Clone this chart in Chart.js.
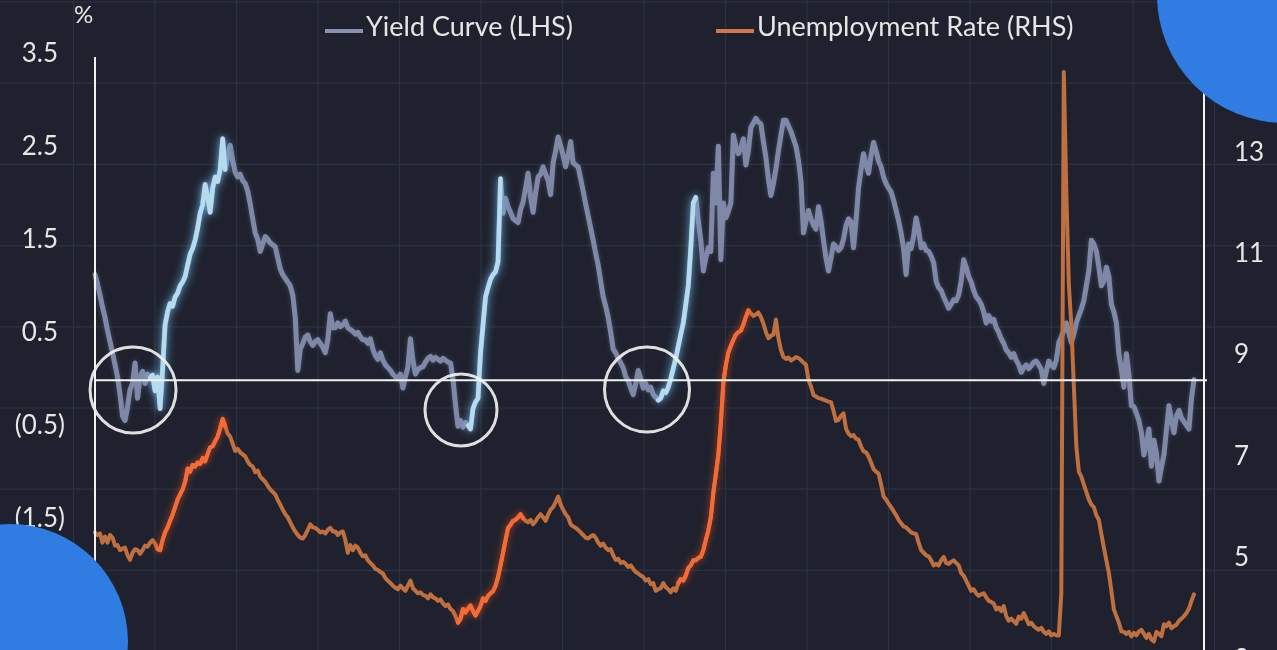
<!DOCTYPE html>
<html>
<head>
<meta charset="utf-8">
<title>Yield Curve vs Unemployment Rate</title>
<script src="https://cdn.jsdelivr.net/npm/chart.js@4.4.1/dist/chart.umd.min.js"></script>
<style>
  html, body { margin: 0; padding: 0; background: #1f222e; overflow: hidden; }
  #wrap { width: 1277px; height: 680px; }
</style>
</head>
<body>
<div id="wrap"><canvas id="chart" width="1277" height="680"></canvas></div>
<script>
// monthly, Jan 1988 .. Aug 2024 (axis runs on to Dec 2024)
const months = [];
for (let y = 1988; y <= 2024; y++) {
  for (let m = 1; m <= 12; m++) months.push(y + '-' + String(m).padStart(2, '0'));
}

// 10y - 2y spread, % (left axis)
const yieldCurve = [
  1.12, 1.02, 0.90, 0.77, 0.66, 0.52, 0.40, 0.28, 0.15, 0.02, -0.17, -0.40,
  -0.45, -0.30, -0.12, -0.05, 0.17, -0.21, 0.02, 0.08, -0.05, 0.05, 0.01, 0.04,
  -0.13, 0.02, -0.32, 0.10, 0.58, 0.72, 0.81, 0.78, 0.88, 0.92, 1.00, 1.04,
  1.10, 1.22, 1.34, 1.40, 1.49, 1.62, 1.78, 1.87, 2.09, 1.95, 1.79, 2.05,
  2.17, 2.12, 2.25, 2.58, 2.25, 2.40, 2.51, 2.35, 2.22, 2.17, 2.20, 2.13,
  2.10, 2.02, 1.88, 1.72, 1.57, 1.50, 1.37, 1.45, 1.53, 1.50, 1.46, 1.44,
  1.42, 1.30, 1.18, 1.12, 1.08, 1.04, 1.00, 0.90, 0.66, 0.09, 0.32, 0.38,
  0.45, 0.47, 0.40, 0.36, 0.40, 0.42, 0.38, 0.34, 0.28, 0.42, 0.70, 0.55,
  0.55, 0.60, 0.56, 0.58, 0.62, 0.55, 0.53, 0.51, 0.48, 0.50, 0.45, 0.42,
  0.42, 0.38, 0.43, 0.32, 0.25, 0.21, 0.28, 0.20, 0.15, 0.12, 0.09, 0.05,
  0.02, 0.00, 0.05, -0.10, 0.02, 0.13, 0.43, 0.20, 0.05, 0.10, 0.12, 0.13,
  0.18, 0.22, 0.24, 0.20, 0.23, 0.21, 0.19, 0.22, 0.20, 0.18, 0.17, 0.00,
  -0.28, -0.51, -0.45, -0.52, -0.47, -0.50, -0.54, -0.32, -0.25, -0.21, 0.28, 0.58,
  0.88, 0.98, 1.07, 1.12, 1.15, 1.26, 2.15, 1.78, 1.94, 1.85, 1.79, 1.72,
  1.70, 1.68, 1.82, 1.90, 2.05, 2.21, 1.95, 1.79, 2.00, 2.17, 2.20, 2.28,
  2.20, 2.13, 1.98, 2.32, 2.45, 2.60, 2.51, 2.40, 2.28, 2.40, 2.55, 2.32,
  2.30, 2.28, 2.15, 2.02, 1.88, 1.75, 1.62, 1.49, 1.35, 1.22, 1.05, 0.88,
  0.78, 0.66, 0.50, 0.32, 0.28, 0.22, 0.17, 0.12, 0.02, -0.02, -0.10, -0.17,
  -0.05, 0.09, 0.00, -0.10, -0.05, -0.12, -0.09, -0.17, -0.20, -0.23, -0.21, -0.13,
  -0.15, -0.09, 0.00, 0.11, 0.22, 0.35, 0.48, 0.60, 0.80, 1.00, 1.41, 1.89,
  1.95, 1.70, 1.49, 1.16, 1.30, 1.41, 1.37, 2.21, 1.89, 2.50, 1.28, 1.89,
  1.73, 1.80, 1.89, 2.62, 2.50, 2.42, 2.48, 2.58, 2.30, 2.45, 2.70, 2.75,
  2.80, 2.76, 2.74, 2.55, 2.38, 2.15, 1.97, 2.10, 2.26, 2.45, 2.62, 2.78,
  2.78, 2.72, 2.66, 2.58, 2.50, 2.35, 2.13, 1.57, 1.70, 1.81, 1.72, 1.65,
  1.61, 1.85, 1.70, 1.49, 1.30, 1.16, 1.30, 1.45, 1.42, 1.38, 1.41, 1.50,
  1.65, 1.72, 1.69, 1.41, 1.70, 2.05, 2.25, 2.42, 2.30, 2.21, 2.40, 2.54,
  2.45, 2.34, 2.28, 2.17, 2.10, 2.05, 2.01, 1.92, 1.81, 1.70, 1.57, 1.40,
  1.12, 1.45, 1.40, 1.53, 1.73, 1.60, 1.41, 1.45, 1.38, 1.37, 1.32, 1.25,
  1.05, 0.98, 0.95, 0.88, 0.82, 0.76, 0.80, 0.85, 0.84, 0.90, 1.05, 1.28,
  1.20, 1.10, 1.04, 0.95, 0.88, 0.85, 0.80, 0.72, 0.60, 0.68, 0.62, 0.64,
  0.55, 0.50, 0.43, 0.38, 0.31, 0.28, 0.23, 0.27, 0.20, 0.15, 0.07, 0.12,
  0.15, 0.11, 0.14, 0.18, 0.19, 0.15, 0.10, -0.05, 0.08, 0.19, 0.15, 0.12,
  0.20, 0.39, 0.45, 0.52, 0.60, 0.50, 0.39, 0.48, 0.60, 0.68, 0.75, 0.84,
  1.00, 1.16, 1.49, 1.45, 1.37, 1.20, 1.00, 1.05, 1.20, 1.10, 0.80, 0.72,
  0.60, 0.27, 0.10, -0.09, 0.27, 0.05, -0.29, -0.30, -0.37, -0.45, -0.58, -0.82,
  -0.70, -0.54, -0.94, -0.66, -0.80, -1.10, -0.95, -0.82, -0.55, -0.29, -0.45, -0.58,
  -0.40, -0.34, -0.42, -0.46, -0.50, -0.54, -0.21, -0.01
];

// unemployment rate, % (right axis)
const unemployment = [
  5.50, 5.45, 5.48, 5.30, 5.42, 5.30, 5.45, 5.40, 5.24, 5.25, 5.15, 5.18,
  5.20, 5.05, 4.96, 5.10, 5.17, 5.15, 5.08, 5.15, 5.24, 5.22, 5.30, 5.35,
  5.28, 5.17, 5.15, 5.35, 5.50, 5.60, 5.73, 5.85, 6.00, 6.15, 6.25, 6.35,
  6.50, 6.76, 6.70, 6.83, 6.80, 6.88, 6.85, 6.97, 6.90, 7.05, 7.18, 7.20,
  7.30, 7.39, 7.55, 7.74, 7.60, 7.45, 7.39, 7.25, 7.11, 7.15, 7.08, 7.04,
  7.00, 6.90, 6.83, 6.80, 6.69, 6.72, 6.60, 6.55, 6.50, 6.42, 6.35, 6.30,
  6.25, 6.14, 6.05, 5.95, 5.86, 5.80, 5.70, 5.60, 5.52, 5.45, 5.40, 5.38,
  5.45, 5.55, 5.66, 5.60, 5.59, 5.55, 5.50, 5.52, 5.48, 5.55, 5.59, 5.52,
  5.52, 5.45, 5.50, 5.52, 5.35, 5.10, 5.25, 5.15, 5.24, 5.20, 5.10, 5.03,
  5.05, 4.95, 4.90, 4.85, 4.78, 4.76, 4.72, 4.69, 4.60, 4.55, 4.50, 4.45,
  4.41, 4.38, 4.45, 4.40, 4.35, 4.45, 4.55, 4.40, 4.35, 4.30, 4.32, 4.27,
  4.25, 4.20, 4.28, 4.22, 4.20, 4.15, 4.18, 4.10, 4.05, 4.08, 3.99, 3.95,
  3.85, 3.72, 3.80, 3.99, 3.92, 4.00, 4.06, 3.95, 3.86, 3.95, 4.05, 4.20,
  4.15, 4.25, 4.30, 4.34, 4.45, 4.62, 4.85, 5.10, 5.35, 5.59, 5.65, 5.73,
  5.75, 5.80, 5.86, 5.78, 5.73, 5.70, 5.75, 5.66, 5.72, 5.80, 5.86, 5.80,
  5.73, 5.85, 5.95, 6.00, 6.10, 6.21, 6.05, 5.95, 5.86, 5.80, 5.66, 5.62,
  5.59, 5.55, 5.50, 5.45, 5.40, 5.38, 5.42, 5.45, 5.40, 5.30, 5.24, 5.28,
  5.20, 5.15, 5.17, 5.05, 4.96, 4.98, 4.90, 4.92, 4.88, 4.82, 4.85, 4.78,
  4.72, 4.69, 4.65, 4.62, 4.55, 4.58, 4.48, 4.50, 4.35, 4.38, 4.40, 4.50,
  4.42, 4.38, 4.32, 4.40, 4.35, 4.50, 4.58, 4.55, 4.65, 4.80, 4.85, 4.95,
  4.95, 5.00, 5.02, 5.15, 5.35, 5.54, 5.80, 6.28, 6.65, 7.03, 7.65, 8.45,
  8.80, 9.05, 9.18, 9.30, 9.40, 9.45, 9.48, 9.60, 9.75, 9.88, 9.82, 9.77,
  9.80, 9.84, 9.75, 9.62, 9.45, 9.33, 9.38, 9.40, 9.70, 9.33, 9.10, 8.96,
  8.92, 8.95, 8.89, 8.92, 8.96, 8.94, 8.90, 8.85, 8.81, 8.51, 8.38, 8.21,
  8.18, 8.15, 8.14, 8.12, 8.10, 8.08, 8.07, 7.90, 7.70, 7.72, 7.80, 7.85,
  7.55, 7.45, 7.40, 7.42, 7.35, 7.33, 7.20, 7.10, 7.08, 7.00, 6.88, 6.75,
  6.70, 6.66, 6.45, 6.21, 6.15, 6.07, 6.00, 5.92, 5.84, 5.75, 5.68, 5.62,
  5.60, 5.55, 5.50, 5.48, 5.47, 5.30, 5.15, 5.10, 5.05, 5.03, 4.95, 4.85,
  4.88, 4.85, 4.95, 5.02, 4.90, 4.88, 4.92, 4.95, 4.90, 4.85, 4.70, 4.65,
  4.55, 4.45, 4.35, 4.38, 4.30, 4.25, 4.28, 4.30, 4.22, 4.15, 4.13, 4.10,
  3.98, 4.02, 3.95, 4.05, 3.85, 3.76, 3.80, 3.75, 3.70, 3.84, 3.80, 3.91,
  3.80, 3.69, 3.72, 3.65, 3.61, 3.58, 3.62, 3.54, 3.50, 3.55, 3.47, 3.50,
  3.47, 3.47, 4.30, 14.58, 12.20, 10.40, 9.60, 8.40, 7.20, 6.70, 6.60, 6.45,
  6.30, 6.15, 6.05, 6.00, 5.84, 5.75, 5.47, 5.20, 4.95, 4.70, 4.35, 3.98,
  3.85, 3.72, 3.55, 3.54, 3.50, 3.54, 3.45, 3.52, 3.47, 3.55, 3.58, 3.50,
  3.42, 3.50, 3.39, 3.35, 3.54, 3.50, 3.45, 3.69, 3.65, 3.72, 3.61, 3.65,
  3.68, 3.76, 3.80, 3.85, 3.91, 4.00, 4.15, 4.28
];

// highlighted stretches (month indexes): re-steepening after inversion, and the jobless rise
const yieldHighlights = [[22, 52], [149, 162], [225, 240]];
const unempHighlights = [[25, 52], [145, 171], [233, 261]];

const leftTicks = [3.5, 2.5, 1.5, 0.5, -0.5, -1.5, -2.5];
const rightTicks = [13, 11, 9, 7, 5, 3];

// circled inversions: [month index, spread value, radius px]
const rings = [[15.2, -0.12, 43], [146.2, -0.335, 36], [220.5, -0.115, 42.5]];

const pick = (arr, ranges) =>
  arr.map((v, i) => (ranges.some(([a, b]) => i >= a && i <= b) ? v : null));

const FONT = 'Lato, "Open Sans", sans-serif';

const backdrop = {
  id: 'backdrop',
  beforeDraw(chart) {
    const ctx = chart.ctx;
    ctx.save();
    ctx.fillStyle = '#1f222e';
    ctx.fillRect(0, 0, chart.width, chart.height);
    ctx.strokeStyle = '#2d3142';
    ctx.lineWidth = 1.2;
    for (let x = -8; x < chart.width; x += 81.5) {
      ctx.beginPath(); ctx.moveTo(x, 0); ctx.lineTo(x, chart.height); ctx.stroke();
    }
    for (let y = 2; y < chart.height; y += 81.2) {
      ctx.beginPath(); ctx.moveTo(0, y); ctx.lineTo(chart.width, y); ctx.stroke();
    }
    ctx.restore();
  }
};

const glow = {
  id: 'glow',
  beforeDatasetDraw(chart, args) {
    const ds = chart.data.datasets[args.index];
    if (!ds.glow) return;
    chart.ctx.save();
    chart.ctx.shadowColor = ds.glow;
    chart.ctx.shadowBlur = ds.glowBlur;
  },
  afterDatasetDraw(chart, args) {
    const ds = chart.data.datasets[args.index];
    if (ds.glow) chart.ctx.restore();
  }
};

const decor = {
  id: 'decor',
  afterDatasetsDraw(chart) {
    const ctx = chart.ctx;
    const { left, right } = chart.chartArea;
    const y = chart.scales.y;
    const x = chart.scales.x;
    ctx.save();
    ctx.strokeStyle = '#f2f2f2';
    ctx.lineWidth = 2;
    // zero line
    const y0 = y.getPixelForValue(0) + 1.5;
    ctx.beginPath(); ctx.moveTo(left, y0); ctx.lineTo(right + 3, y0); ctx.stroke();
    // axis rules
    ctx.beginPath(); ctx.moveTo(left, 57); ctx.lineTo(left, chart.height); ctx.stroke();
    ctx.beginPath(); ctx.moveTo(right, 57); ctx.lineTo(right, chart.height); ctx.stroke();
    // rings
    ctx.lineWidth = 3;
    ctx.strokeStyle = 'rgba(240,240,240,0.92)';
    rings.forEach(([i, v, r]) => {
      ctx.beginPath();
      ctx.arc(x.getPixelForValue(i), y.getPixelForValue(v), r, 0, Math.PI * 2);
      ctx.stroke();
    });
    ctx.restore();
  },
  afterDraw(chart) {
    const ctx = chart.ctx;
    ctx.save();
    // legend
    ctx.font = '27px ' + FONT;
    ctx.fillStyle = '#e6e6e6';
    ctx.textBaseline = 'alphabetic';
    ctx.lineWidth = 4;
    ctx.strokeStyle = '#8a91b0';
    ctx.beginPath(); ctx.moveTo(325, 31); ctx.lineTo(363, 31); ctx.stroke();
    ctx.fillText('Yield Curve (LHS)', 366, 36);
    ctx.strokeStyle = '#d0784a';
    ctx.beginPath(); ctx.moveTo(716, 31); ctx.lineTo(754, 31); ctx.stroke();
    ctx.fillText('Unemployment Rate (RHS)', 757, 36);
    ctx.font = '24px ' + FONT;
    ctx.fillText('%', 74, 23);
    // corner discs
    ctx.fillStyle = '#2f7de3';
    ctx.beginPath(); ctx.arc(1285, -5, 128, 0, Math.PI * 2); ctx.fill();
    ctx.beginPath(); ctx.arc(10, 642, 118, 0, Math.PI * 2); ctx.fill();
    ctx.restore();
  }
};

new Chart(document.getElementById('chart'), {
  type: 'line',
  data: {
    labels: months,
    datasets: [
      {
        label: 'Yield Curve (LHS)',
        data: yieldCurve,
        yAxisID: 'y',
        borderColor: '#8088a8',
        borderWidth: 5,
        order: 5,
        glow: 'rgba(140,150,190,0.35)',
        glowBlur: 4
      },
      {
        label: 'Yield Curve highlight',
        data: pick(yieldCurve, yieldHighlights),
        yAxisID: 'y',
        borderColor: '#b4dcee',
        borderWidth: 4.5,
        spanGaps: false,
        order: 4,
        glow: 'rgba(120,200,255,0.9)',
        glowBlur: 10
      },
      {
        label: 'Unemployment Rate (RHS)',
        data: unemployment,
        yAxisID: 'y2',
        borderColor: '#c0703f',
        borderWidth: 4,
        order: 3
      },
      {
        label: 'Unemployment highlight',
        data: pick(unemployment, unempHighlights),
        yAxisID: 'y2',
        borderColor: '#f26c38',
        borderWidth: 4,
        spanGaps: false,
        order: 2,
        glow: 'rgba(255,80,30,0.7)',
        glowBlur: 7
      }
    ]
  },
  options: {
    responsive: false,
    animation: false,
    events: [],
    layout: { padding: { top: 53.3, bottom: 8, left: 0, right: 0 } },
    elements: {
      point: { radius: 0 },
      line: { tension: 0, borderJoinStyle: 'round', borderCapStyle: 'round' }
    },
    plugins: { legend: { display: false }, tooltip: { enabled: false } },
    scales: {
      x: { display: false, offset: false },
      y: {
        position: 'left',
        min: -3.153,
        max: 3.5,
        grid: { display: false, drawTicks: false },
        border: { display: false },
        afterBuildTicks: (scale) => { scale.ticks = leftTicks.map(v => ({ value: v })); },
        afterFit: (scale) => { scale.width = 95; scale.paddingTop = 0; scale.paddingBottom = 0; },
        ticks: {
          autoSkip: false,
          crossAlign: 'center',
          padding: 30,
          color: '#e6e6e6',
          font: { family: FONT, size: 26 },
          callback: (v) => (v < 0 ? '(' + Math.abs(v).toFixed(1) + ')' : v.toFixed(1))
        }
      },
      y2: {
        position: 'right',
        min: 2.748,
        max: 14.95,
        grid: { display: false, drawTicks: false },
        border: { display: false },
        afterBuildTicks: (scale) => { scale.ticks = rightTicks.map(v => ({ value: v })); },
        afterFit: (scale) => { scale.width = 73; scale.paddingTop = 0; scale.paddingBottom = 0; },
        ticks: {
          autoSkip: false,
          padding: 30,
          color: '#e6e6e6',
          font: { family: FONT, size: 26 },
          callback: (v) => String(v)
        }
      }
    }
  },
  plugins: [backdrop, glow, decor]
});
</script>
</body>
</html>
